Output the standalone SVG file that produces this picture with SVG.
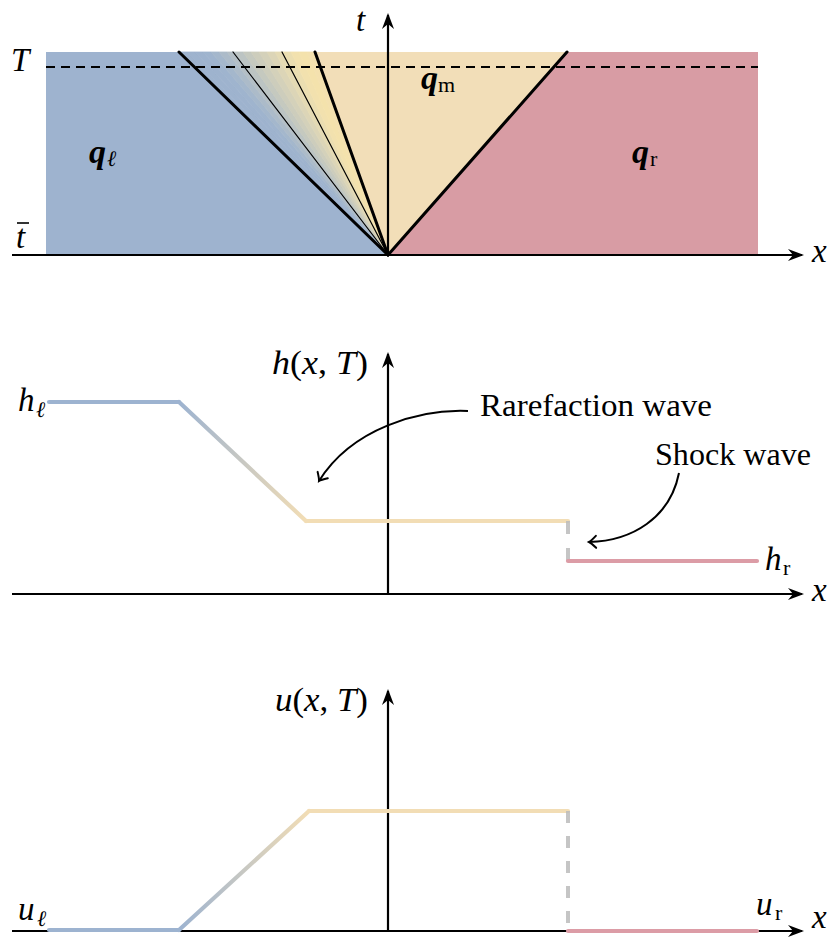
<svg xmlns="http://www.w3.org/2000/svg" width="829" height="937" viewBox="0 0 829 937">
<style>
text{font-family:"Liberation Serif","DejaVu Serif",serif;fill:#000}
.m{font-style:italic;font-size:33px}
.r{font-style:normal}
.sub{font-size:22px}
.bq{font-weight:bold;font-style:italic;font-size:34px}
.ax{stroke:#000;stroke-width:2.2;fill:none}
.fan{stroke:#000;fill:none;stroke-linecap:round}
.crv{stroke-width:4.2;fill:none;stroke-linecap:round}
.ann{stroke:#000;stroke-width:2;fill:none}
</style>
<defs>
<marker id="ah" markerWidth="20" markerHeight="14" refX="0" refY="0" viewBox="-16 -7 20 14" orient="auto" markerUnits="userSpaceOnUse">
<path d="M2,0 L-14,-6 L-9,0 L-14,6 Z" fill="#000"/>
</marker>
<marker id="to" markerWidth="16" markerHeight="16" viewBox="-10 -8 14 16" refX="0" refY="0" orient="auto" markerUnits="userSpaceOnUse">
<path d="M-7,-6 Q-2,-1 0,0 Q-2,1 -7,6" fill="none" stroke="#000" stroke-width="2" stroke-linecap="round"/>
</marker>
<linearGradient id="gh" gradientUnits="userSpaceOnUse" x1="179" y1="0" x2="306" y2="0">
<stop offset="0" stop-color="#9db3d0"/><stop offset="1" stop-color="#f2ddb5"/>
</linearGradient>
<linearGradient id="gu" gradientUnits="userSpaceOnUse" x1="179" y1="0" x2="309" y2="0">
<stop offset="0" stop-color="#9db3d0"/><stop offset="1" stop-color="#f2ddb5"/>
</linearGradient>
</defs>

<g id="top-panel">
<polygon points="46,52 179,52 388,255 46,255" fill="#9eb3cf"/>
<polygon points="315,52 567,52 388,255" fill="#f2deb8"/>
<polygon points="567,52 758,52 758,255 388,255" fill="#d89ca4"/>
<g id="fan-gradient" stroke-width="0.8">
<polygon points="388,255 179,52 187,52" fill="rgb(158,179,206)" stroke="rgb(158,179,206)"/>
<polygon points="388,255 187,52 195,52" fill="rgb(158,179,206)" stroke="rgb(158,179,206)"/>
<polygon points="388,255 195,52 203,52" fill="rgb(158,179,206)" stroke="rgb(158,179,206)"/>
<polygon points="388,255 203,52 211,52" fill="rgb(159,180,206)" stroke="rgb(159,180,206)"/>
<polygon points="388,255 211,52 219,52" fill="rgb(164,183,204)" stroke="rgb(164,183,204)"/>
<polygon points="388,255 219,52 227,52" fill="rgb(172,187,201)" stroke="rgb(172,187,201)"/>
<polygon points="388,255 227,52 235,52" fill="rgb(180,191,198)" stroke="rgb(180,191,198)"/>
<polygon points="388,255 235,52 243,52" fill="rgb(188,196,195)" stroke="rgb(188,196,195)"/>
<polygon points="388,255 243,52 251,52" fill="rgb(197,201,191)" stroke="rgb(197,201,191)"/>
<polygon points="388,255 251,52 259,52" fill="rgb(205,205,188)" stroke="rgb(205,205,188)"/>
<polygon points="388,255 259,52 267,52" fill="rgb(212,209,186)" stroke="rgb(212,209,186)"/>
<polygon points="388,255 267,52 275,52" fill="rgb(220,213,183)" stroke="rgb(220,213,183)"/>
<polygon points="388,255 275,52 283,52" fill="rgb(228,218,180)" stroke="rgb(228,218,180)"/>
<polygon points="388,255 283,52 291,52" fill="rgb(235,222,177)" stroke="rgb(235,222,177)"/>
<polygon points="388,255 291,52 299,52" fill="rgb(242,225,174)" stroke="rgb(242,225,174)"/>
<polygon points="388,255 299,52 307,52" fill="rgb(244,226,172)" stroke="rgb(244,226,172)"/>
<polygon points="388,255 307,52 315,52" fill="rgb(244,225,175)" stroke="rgb(244,225,175)"/>
</g>
<line x1="46" y1="67" x2="758" y2="67" stroke="#000" stroke-width="2" stroke-dasharray="9,6"/>
<line class="fan" x1="388" y1="255" x2="179" y2="52" stroke-width="3"/>
<line class="fan" x1="388" y1="255" x2="233" y2="52" stroke-width="1.2"/>
<line class="fan" x1="388" y1="255" x2="282" y2="52" stroke-width="1.2"/>
<line class="fan" x1="388" y1="255" x2="315" y2="52" stroke-width="3"/>
<line class="fan" x1="388" y1="255" x2="567" y2="52" stroke-width="3"/>
<text class="bq" x="89" y="163">q</text><text class="m sub" x="107" y="166">ℓ</text>
<text class="bq" x="421" y="89">q</text><text class="sub" x="438" y="92">m</text>
<text class="bq" x="632" y="163">q</text><text class="sub" x="650" y="166">r</text>
</g>

<g id="connectors">
<line class="ax" x1="12" y1="255" x2="802" y2="255" marker-end="url(#ah)"/>
<line class="ax" x1="388" y1="255" x2="388" y2="15" marker-end="url(#ah)"/>
<line class="ax" x1="12" y1="594" x2="802" y2="594" marker-end="url(#ah)"/>
<line class="ax" x1="388" y1="594" x2="388" y2="354" marker-end="url(#ah)"/>
<line class="ax" x1="12" y1="931" x2="802" y2="931" marker-end="url(#ah)"/>
<line class="ax" x1="388" y1="931" x2="388" y2="691" marker-end="url(#ah)"/>
<path class="ann" d="M468,411 C420,409 352,428 319,481" marker-end="url(#to)"/>
<path class="ann" d="M679,473 C670,518 632,541 589,542" marker-end="url(#to)"/>
</g>

<g id="axis-labels">
<text class="m" x="11" y="71">T</text>
<text class="m" x="16" y="248">t</text>
<line x1="17" y1="223" x2="29" y2="223" stroke="#000" stroke-width="1.6"/>
<text class="m" x="356" y="31">t</text>
<text class="m" x="812" y="262">x</text>
<text class="m" x="812" y="601">x</text>
<text class="m" x="812" y="928" font-size="30">x</text>
</g>

<g id="h-plot">
<line class="crv" x1="49" y1="402" x2="179" y2="402" stroke="#9db3d0"/>
<line class="crv" x1="179" y1="402" x2="306" y2="521" stroke="url(#gh)"/>
<line class="crv" x1="306" y1="521" x2="568" y2="521" stroke="#f2ddb5"/>
<line x1="568" y1="521" x2="568" y2="561" stroke="#bbb" stroke-opacity="0.85" stroke-width="4" stroke-dasharray="13,14"/>
<line class="crv" x1="568" y1="561" x2="757" y2="561" stroke="#dc9ca6"/>
<text class="m" x="272" y="374" textLength="96" lengthAdjust="spacingAndGlyphs">h<tspan class="r">(</tspan>x<tspan class="r">,</tspan> T<tspan class="r">)</tspan></text>
<text class="m" x="18" y="411">h</text><text class="m sub" x="36" y="417">ℓ</text>
<text class="m" x="765" y="570">h</text><text class="sub" x="783" y="575">r</text>
<text x="480" y="416" font-size="31" textLength="232" lengthAdjust="spacingAndGlyphs">Rarefaction wave</text>
<text x="655" y="465" font-size="31" textLength="156" lengthAdjust="spacingAndGlyphs">Shock wave</text>
</g>

<g id="u-plot">
<line class="crv" x1="49" y1="930" x2="179" y2="930" stroke="#9db3d0"/>
<line class="crv" x1="179" y1="930" x2="309" y2="811" stroke="url(#gu)"/>
<line class="crv" x1="309" y1="811" x2="568" y2="811" stroke="#f2ddb5"/>
<line x1="568" y1="811" x2="568" y2="930" stroke="#bbb" stroke-opacity="0.85" stroke-width="4" stroke-dasharray="12,13"/>
<line class="crv" x1="568" y1="931" x2="757" y2="931" stroke="#dc9ca6"/>
<text class="m" x="275" y="711" textLength="93" lengthAdjust="spacingAndGlyphs">u<tspan class="r">(</tspan>x<tspan class="r">,</tspan> T<tspan class="r">)</tspan></text>
<text class="m" x="18" y="920">u</text><text class="m sub" x="37" y="926">ℓ</text>
<text class="m" x="756" y="915">u</text><text class="sub" x="775" y="920">r</text>
</g>
</svg>
